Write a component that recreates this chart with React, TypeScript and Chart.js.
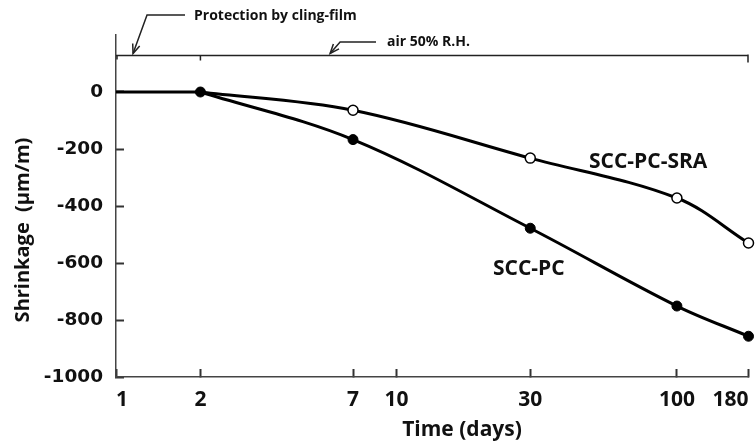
import React, { useEffect, useRef } from 'react';
import { Chart, registerables } from 'chart.js';

Chart.register(...registerables);

// ---- data ----
const DAYS = [2, 7, 30, 100, 180];
const SCC_PC = [0, -167, -478, -751, -857];
const SCC_PC_SRA = [0, -64, -232, -372, -530];
const PROTECTION_DAYS = [1, 2];
const PROTECTION_VALUES = [0, 0];
const X_TICKS = [1, 2, 7, 10, 30, 100, 180];
const Y_TICKS = [-1000, -800, -600, -400, -200, 0];

const FONT = '"Open Sans", "DejaVu Sans", sans-serif';
const WIDE_FONT = '"DejaVu Sans", "Open Sans", sans-serif';
const INK = '#111';

const annotationPlugin = {
  id: 'annotations',
  afterDraw(chart: any) {
    const { ctx, scales } = chart;
    const x = scales.x;
    const y = scales.y;
    ctx.save();
    ctx.strokeStyle = '#222';
    ctx.lineWidth = 1.5;
    const yT = y.getPixelForValue(128);
    const x1 = x.getPixelForValue(1);
    const x2 = x.getPixelForValue(2);
    const xe = x.getPixelForValue(180);
    ctx.beginPath();
    ctx.moveTo(x1, yT);
    ctx.lineTo(xe, yT);
    ctx.moveTo(x1 + 1, yT);
    ctx.lineTo(x1 + 1, yT + 4);
    ctx.moveTo(x2, yT);
    ctx.lineTo(x2, yT + 5);
    ctx.moveTo(xe - 0.5, yT - 1);
    ctx.lineTo(xe - 0.5, yT + 7);
    ctx.stroke();

    const arrow = (tx: number, ty: number, ex: number, ey: number, endX: number) => {
      ctx.beginPath();
      ctx.moveTo(endX, ey);
      ctx.lineTo(ex, ey);
      ctx.lineTo(tx, ty);
      ctx.stroke();
      const ang = Math.atan2(ty - ey, tx - ex);
      const L = 10;
      const spread = 0.38;
      ctx.beginPath();
      ctx.moveTo(tx - L * Math.cos(ang - spread), ty - L * Math.sin(ang - spread));
      ctx.lineTo(tx, ty);
      ctx.lineTo(tx - L * Math.cos(ang + spread), ty - L * Math.sin(ang + spread));
      ctx.stroke();
    };
    const tip1 = x.getPixelForValue(1.15);
    arrow(tip1, yT - 2, tip1 + 14, 15, 185);
    const tip2 = x.getPixelForValue(5.8);
    arrow(tip2, yT - 2, tip2 + 10, 42, 376);

    ctx.fillStyle = INK;
    ctx.textBaseline = 'middle';
    ctx.textAlign = 'left';
    ctx.font = `bold 14px ${FONT}`;
    ctx.fillText('Protection by cling-film', 194, 16);
    ctx.fillText('air 50% R.H.', 387, 42);

    ctx.font = `bold 21px ${FONT}`;
    ctx.fillText('SCC-PC-SRA', 589, 162);
    ctx.fillText('SCC-PC', 493, 269);

    ctx.textAlign = 'center';
    ctx.fillText('Time (days)', 462, 430);
    ctx.translate(23, 230);
    ctx.rotate(-Math.PI / 2);
    ctx.font = `bold 20px ${FONT}`;
    ctx.fillText('Shrinkage  (\u03BCm/m)', 0, 0);
    ctx.restore();
  },
};

export default function App() {
  const ref = useRef<HTMLCanvasElement | null>(null);

  useEffect(() => {
    if (!ref.current) return;
    const chart = new Chart(ref.current, {
      type: 'line',
      data: {
        datasets: [
          {
            label: 'SCC-PC',
            data: DAYS.map((d, i) => ({ x: d, y: SCC_PC[i] })),
            borderColor: '#000',
            borderWidth: 3,
            pointRadius: 5,
            pointBackgroundColor: '#000',
            pointBorderColor: '#000',
            pointBorderWidth: 1,
            tension: 0.35,
            clip: false,
          },
          {
            label: 'SCC-PC-SRA',
            data: DAYS.map((d, i) => ({ x: d, y: SCC_PC_SRA[i] })),
            borderColor: '#000',
            borderWidth: 3,
            pointRadius: DAYS.map((_, i) => (i === 0 ? 0 : 5)),
            pointBackgroundColor: '#fff',
            pointBorderColor: '#000',
            pointBorderWidth: 1.5,
            tension: 0.35,
            clip: false,
          },
          {
            label: 'protection',
            data: PROTECTION_DAYS.map((d, i) => ({ x: d, y: PROTECTION_VALUES[i] })),
            borderColor: '#000',
            borderWidth: 3,
            pointRadius: 0,
            clip: false,
          },
        ],
      },
      options: {
        responsive: false,
        animation: false,
        devicePixelRatio: 1,
        layout: { padding: { left: 0, top: 35, right: 6, bottom: 0 } },
        plugins: { legend: { display: false }, tooltip: { enabled: false } },
        scales: {
          x: {
            type: 'logarithmic',
            min: 1,
            max: 180,
            afterBuildTicks: (s: any) => {
              s.ticks = X_TICKS.map((v) => ({ value: v }));
            },
            afterFit: (s: any) => {
              s.height = 68;
              s.paddingLeft = 0;
              s.paddingRight = 0;
            },
            ticks: {
              autoSkip: false,
              maxRotation: 0,
              align: 'inner',
              padding: 18,
              color: INK,
              font: { family: FONT, size: 21, weight: 'bold' },
              callback: (v: any) => String(v),
            },
            grid: {
              drawOnChartArea: false,
              drawTicks: true,
              tickLength: -8,
              tickWidth: 2,
              tickColor: '#333',
            },
            border: { display: true, color: '#444', width: 1.5 },
            title: { display: false },
          },
          y: {
            type: 'linear',
            min: -1000,
            max: 200,
            afterBuildTicks: (s: any) => {
              s.ticks = Y_TICKS.map((v) => ({ value: v }));
            },
            afterFit: (s: any) => {
              s.width = 116;
            },
            ticks: {
              padding: 21,
              color: INK,
              font: { family: WIDE_FONT, size: 18.5, weight: 'bold' },
              callback: (v: any) => String(v),
            },
            grid: {
              drawOnChartArea: false,
              drawTicks: true,
              tickLength: -8,
              tickWidth: 2,
              tickColor: '#333',
            },
            border: { display: true, color: '#444', width: 1.5 },
            title: { display: false },
          },
        },
      } as any,
      plugins: [annotationPlugin],
    });
    return () => chart.destroy();
  }, []);

  return (
    <div style={{ position: 'fixed', left: 0, top: 0, width: 755, height: 445, background: '#fff' }}>
      <canvas ref={ref} width={755} height={445} style={{ display: 'block' }} />
    </div>
  );
}
